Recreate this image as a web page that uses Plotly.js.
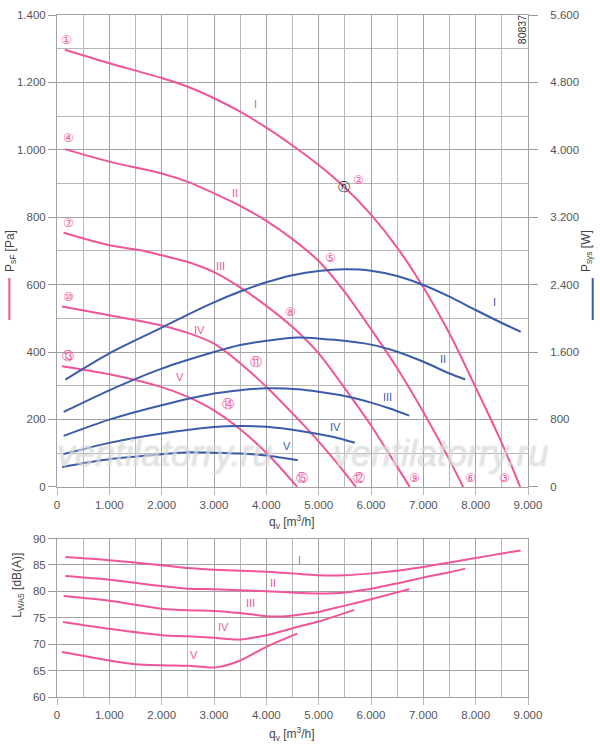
<!DOCTYPE html>
<html>
<head>
<meta charset="utf-8">
<script src="https://cdn.plot.ly/plotly-3.0.1.min.js"></script>
<style>
  body { margin: 0; background: #fff; }
  #chart { width: 600px; height: 747px; }
</style>
</head>
<body>
<div id="chart"></div>
<script>
// static pressure psF [Pa] vs qv [m3/h], speeds I..V
const qPI = [150, 1000, 2000, 2500, 3000, 3500, 4000, 4500, 5000, 5480, 6000, 6500, 7000, 7500, 8000, 8500, 8850];
const pPI = [1297, 1257, 1213, 1187, 1153, 1113, 1066, 1013, 955, 891, 808, 710, 592, 455, 295, 130, 0];
const qPII = [150, 1000, 2000, 2500, 3000, 3500, 4000, 4500, 5000, 5500, 6000, 6500, 7000, 7500, 7760];
const pPII = [1002, 965, 930, 905, 871, 834, 789, 735, 670, 578, 468, 352, 222, 80, 0];
const qPIII = [125, 1000, 1600, 2000, 2500, 3000, 3500, 4000, 4500, 5000, 5500, 6000, 6370, 6740];
const pPIII = [754, 717, 702, 687, 667, 637, 592, 537, 474, 396, 292, 182, 92, 0];
const qPIV = [96, 1000, 2000, 2500, 3000, 3500, 4000, 4500, 4900, 5300, 5710];
const pPIV = [535, 509, 479, 457, 425, 367, 297, 218, 152, 80, 0];
const qPV = [96, 1000, 2000, 2500, 3000, 3500, 4000, 4590];
const pPV = [358, 334, 296, 267, 227, 171, 101, 0];

// power consumption Psys [W]
const qWI = [160, 1000, 2000, 2500, 3000, 3500, 4000, 4500, 5000, 5500, 6000, 6500, 7000, 7500, 8000, 8500, 8860];
const wI = [1273, 1585, 1890, 2045, 2190, 2318, 2428, 2512, 2563, 2582, 2566, 2503, 2396, 2257, 2099, 1945, 1841];
const qWII = [127, 1000, 2000, 3000, 3500, 4000, 4600, 5300, 6000, 6500, 7000, 7500, 7800];
const wII = [889, 1146, 1403, 1600, 1683, 1734, 1774, 1745, 1688, 1604, 1485, 1346, 1275];
const qWIII = [127, 1000, 2000, 3000, 3500, 4000, 4600, 5000, 5500, 6000, 6360, 6730];
const wIII = [605, 798, 968, 1107, 1148, 1170, 1160, 1130, 1078, 1000, 930, 845];
const qWIV = [115, 1000, 2000, 3000, 3500, 4000, 4650, 5270, 5690];
const wIV = [387, 522, 633, 711, 723, 713, 664, 594, 523];
const qWV = [96, 1000, 2000, 2500, 3000, 3500, 4000, 4600];
const wV = [237, 328, 387, 410, 405, 395, 372, 316];

// sound power LWA5 [dB(A)]
const qLI = [160, 1000, 2000, 2500, 3000, 4000, 4640, 5000, 5500, 6000, 6500, 7000, 7500, 8000, 8500, 8860];
const lI = [86.5, 85.9, 84.95, 84.4, 84.1, 83.7, 83.3, 83.05, 83.05, 83.4, 83.9, 84.6, 85.45, 86.3, 87.15, 87.75];
const qLII = [160, 1000, 2000, 2500, 3000, 3500, 4000, 4640, 5000, 5500, 6000, 6500, 7000, 7500, 7800];
const lII = [82.9, 82.2, 81.0, 80.5, 80.4, 80.2, 80.0, 79.7, 79.6, 79.8, 80.5, 81.5, 82.6, 83.6, 84.3];
const qLIII = [127, 1000, 2000, 2500, 3000, 3500, 4000, 4380, 4640, 5000, 5500, 6000, 6500, 6730];
const lIII = [79.1, 78.2, 76.7, 76.4, 76.3, 75.9, 75.3, 75.3, 75.6, 76.1, 77.3, 78.5, 79.8, 80.4];
const qLIV = [114, 1000, 2000, 2500, 3000, 3500, 4000, 4640, 5000, 5680];
const lIV = [74.2, 72.9, 71.7, 71.5, 71.2, 70.9, 71.7, 73.4, 74.3, 76.5];
const qLV = [95, 1000, 1500, 2000, 2500, 2900, 3100, 3500, 4000, 4590];
const lV = [68.5, 66.9, 66.2, 66.0, 65.9, 65.6, 65.7, 66.9, 69.5, 72.0];

// labels on the curves
const speedNames = ["I", "II", "III", "IV", "V"];
const pLabelQ = [3800, 3400, 3115, 2730, 2350];
const pLabelP = [1135, 871, 655, 465, 326];
const wLabelQ = [8357, 7370, 6319, 5325, 4389];
const wLabelW = [2193, 1512, 1069, 712, 483];
const lLabelQ = [4630, 4134, 3688, 3178, 2624];
const lLabelL = [86.0, 81.5, 77.8, 73.25, 67.9];

const pointNames = ["①", "④", "⑦", "⑩", "⑬", "②", "⑤", "⑧", "⑪", "⑭", "③", "⑥", "⑨", "⑫", "⑮"];
const pointQ = [185, 229, 216, 216, 216, 5758, 5230, 4466, 3803, 3262, 8548, 7892, 6828, 5777, 4676];
const pointP = [1326, 1035, 784, 562, 388, 910, 678, 518, 370, 245, 26, 26, 26, 26, 26];

const PINK = "#f0559a";
const BLUE = "#3b5ca8";
const GRID = "#a2a2a2";
const GRID_MINOR = "#b8b8b8";
const FONT = "Liberation Sans, Arial, sans-serif";

const pressure = [[qPI, pPI], [qPII, pPII], [qPIII, pPIII], [qPIV, pPIV], [qPV, pPV]];
const power = [[qWI, wI], [qWII, wII], [qWIII, wIII], [qWIV, wIV], [qWV, wV]];
const sound = [[qLI, lI], [qLII, lII], [qLIII, lIII], [qLIV, lIV], [qLV, lV]];

var data = [];
power.forEach(function (c) {
  data.push({ x: c[0], y: c[1], xaxis: "x", yaxis: "y2", mode: "lines",
    line: { color: BLUE, width: 2, shape: "spline", smoothing: 0.8 }, hoverinfo: "skip" });
});
pressure.forEach(function (c) {
  data.push({ x: c[0], y: c[1], xaxis: "x", yaxis: "y", mode: "lines",
    line: { color: PINK, width: 2, shape: "spline", smoothing: 0.8 }, hoverinfo: "skip" });
});
sound.forEach(function (c) {
  data.push({ x: c[0], y: c[1], xaxis: "x2", yaxis: "y3", mode: "lines",
    line: { color: PINK, width: 2, shape: "spline", smoothing: 0.8 }, hoverinfo: "skip" });
});

var annotations = [];
for (var i = 0; i < 5; i++) {
  annotations.push({ x: pLabelQ[i], y: pLabelP[i], xref: "x", yref: "y", text: speedNames[i],
    showarrow: false, font: { color: PINK, size: 11 } });
  annotations.push({ x: wLabelQ[i], y: wLabelW[i], xref: "x", yref: "y2", text: speedNames[i],
    showarrow: false, font: { color: BLUE, size: 11 } });
  annotations.push({ x: lLabelQ[i], y: lLabelL[i], xref: "x2", yref: "y3", text: speedNames[i],
    showarrow: false, font: { color: PINK, size: 11 } });
}
for (var k = 0; k < pointNames.length; k++) {
  annotations.push({ x: pointQ[k], y: pointP[k], xref: "x", yref: "y", text: pointNames[k],
    showarrow: false, font: { color: PINK, size: 12, family: "DejaVu Sans" } });
}
// operating point marker
annotations.push({ x: 5480, y: 891, xref: "x", yref: "y", text: "ⓝ", showarrow: false,
  font: { color: "#222", size: 12, family: "DejaVu Sans" } });
annotations.push({ x: 8886, y: 1355, xref: "x", yref: "y", text: "80837", textangle: -90,
  showarrow: false, font: { color: "#333", size: 10.5 } });
// watermark (outlined text)
var wmFont = { color: "rgba(255,255,255,0.25)", size: 36, family: "Liberation Sans",
  shadow: "1px 0 0 #c8c8c8, -1px 0 0 #c8c8c8, 0 1px 0 #c8c8c8, 0 -1px 0 #c8c8c8" };
annotations.push({ x: 2045, y: 100, xref: "x", yref: "y", text: "<i>ventilatorry.ru</i>",
  showarrow: false, font: wmFont });
annotations.push({ x: 7319, y: 100, xref: "x", yref: "y", text: "<i>ventilatorry.ru</i>",
  showarrow: false, font: wmFont });
// axis titles
annotations.push({ x: -0.119, y: 0.6538, xref: "paper", yref: "paper", textangle: -90, showarrow: false,
  text: "P<sub>sF</sub> [Pa]", font: { size: 12, color: "#444" } });
annotations.push({ x: 1.1465, y: 0.6538, xref: "paper", yref: "paper", textangle: -90, showarrow: false,
  text: "P<sub>sys</sub> [W]", font: { size: 12, color: "#444" } });
annotations.push({ x: -0.104, y: 0.1125, xref: "paper", yref: "paper", textangle: -90, showarrow: false,
  text: "L<sub>WA5</sub> [dB(A)]", font: { size: 12, color: "#444" } });
annotations.push({ x: 0.499, y: 0.2402, xref: "paper", yref: "paper", showarrow: false,
  text: "q<sub>v</sub> [m<sup>3</sup>/h]", font: { size: 12, color: "#444" } });
annotations.push({ x: 0.499, y: -0.0705, xref: "paper", yref: "paper", showarrow: false,
  text: "q<sub>v</sub> [m<sup>3</sup>/h]", font: { size: 12, color: "#444" } });

var shapes = [
  { type: "line", xref: "paper", yref: "paper", x0: -0.1012, x1: -0.1012, y0: 0.5527, y1: 0.6143,
    line: { color: PINK, width: 2 } },
  { type: "line", xref: "paper", yref: "paper", x0: 1.1374, x1: 1.1374, y0: 0.5527, y1: 0.6143,
    line: { color: BLUE, width: 2 } }
];

function xAxis(anchor) {
  return {
    anchor: anchor, domain: [0, 1], range: [0, 9000], dtick: 1000, tick0: 0,
    tickformat: ",d", showgrid: true, gridcolor: GRID, gridwidth: 1,
    minor: { dtick: 500, showgrid: true, gridcolor: GRID_MINOR, gridwidth: 1 },
    showline: true, mirror: true, linecolor: GRID, linewidth: 1,
    ticks: "outside", ticklen: 7, tickcolor: GRID_MINOR, zeroline: false, fixedrange: true
  };
}

var layout = {
  width: 600, height: 747,
  margin: { l: 57, r: 72, t: 15, b: 50.3 },
  paper_bgcolor: "#fff", plot_bgcolor: "#fff",
  separators: ",.",
  showlegend: false,
  font: { family: FONT, size: 11.5, color: "#555" },
  xaxis: xAxis("y"),
  xaxis2: xAxis("y3"),
  yaxis: {
    domain: [0.3081, 1], anchor: "x", range: [0, 1400], dtick: 200, tick0: 0, tickformat: ",d",
    showgrid: true, gridcolor: GRID, gridwidth: 1,
    minor: { dtick: 100, showgrid: true, gridcolor: GRID_MINOR, gridwidth: 1 },
    showline: true, linecolor: GRID, linewidth: 1,
    ticks: "outside", ticklen: 8, tickcolor: "#999", zeroline: false, fixedrange: true
  },
  yaxis2: {
    overlaying: "y", side: "right", anchor: "x", range: [0, 5600], dtick: 800, tick0: 0,
    tickformat: ",d", showgrid: false, showline: true, linecolor: GRID, linewidth: 1,
    ticks: "outside", ticklen: 9, tickcolor: "#999", ticklabelstandoff: 10,
    zeroline: false, fixedrange: true
  },
  yaxis3: {
    domain: [0, 0.2324], anchor: "x2", range: [60, 90], dtick: 5, tick0: 60,
    showgrid: true, gridcolor: GRID, gridwidth: 1,
    showline: true, mirror: true, linecolor: GRID, linewidth: 1,
    ticks: "outside", ticklen: 8, tickcolor: "#999", zeroline: false, fixedrange: true
  },
  annotations: annotations,
  shapes: shapes
};

Plotly.newPlot("chart", data, layout, { displayModeBar: false, staticPlot: true });
</script>
</body>
</html>
